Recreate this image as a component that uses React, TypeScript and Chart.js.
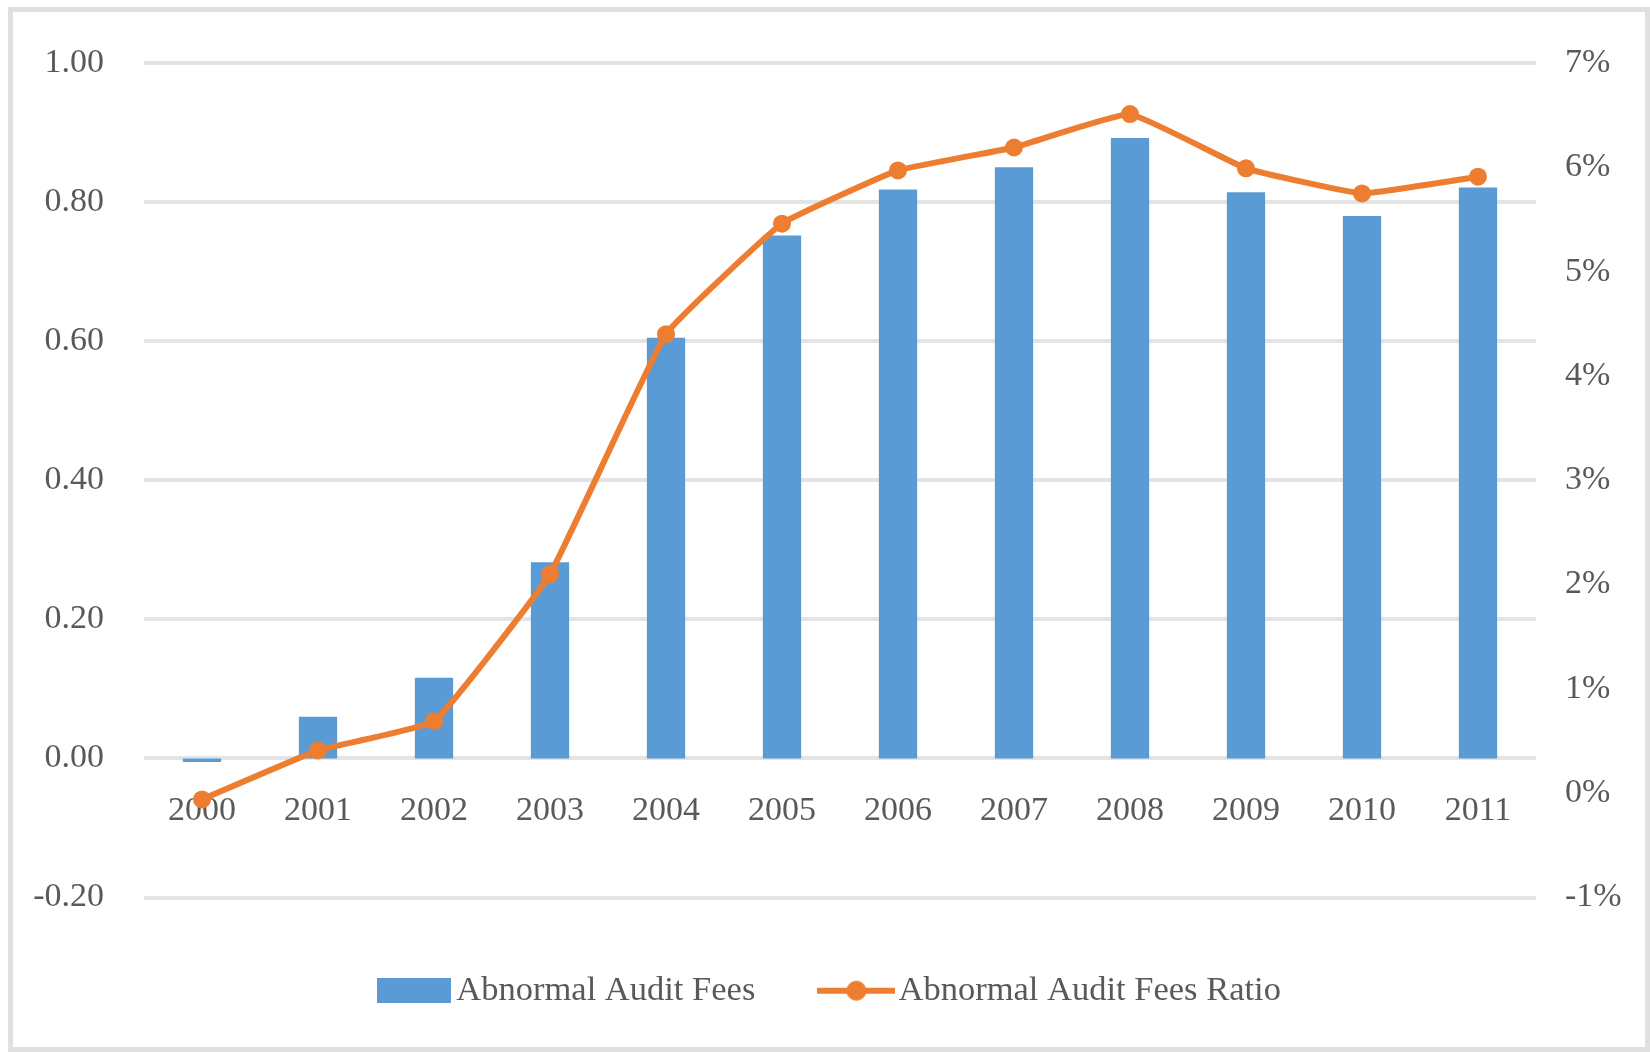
import React, { useEffect, useRef } from 'react';
import { Chart, registerables } from 'chart.js';

Chart.register(...registerables);

const years = ['2000', '2001', '2002', '2003', '2004', '2005', '2006', '2007', '2008', '2009', '2010', '2011'];
const abnormalAuditFees = [-0.005, 0.06, 0.116, 0.282, 0.605, 0.752, 0.818, 0.85, 0.892, 0.814, 0.78, 0.821];
const abnormalAuditFeesRatio = [-0.06, 0.41, 0.69, 2.1, 4.4, 5.46, 5.97, 6.19, 6.51, 5.99, 5.75, 5.91];
const seriesNames = ['Abnormal Audit Fees', 'Abnormal Audit Fees Ratio'];

const BLUE = '#5B9BD5';
const ORANGE = '#ED7D31';
const TEXT = '#595959';
const FONT = "'Liberation Serif', 'Times New Roman', serif";

function makeBarSwatch(): HTMLCanvasElement {
  const c = document.createElement('canvas');
  c.width = 74;
  c.height = 25;
  const ctx = c.getContext('2d')!;
  ctx.fillStyle = BLUE;
  ctx.fillRect(0, 0, 74, 25);
  return c;
}

function makeLineSwatch(): HTMLCanvasElement {
  const c = document.createElement('canvas');
  c.width = 78;
  c.height = 26;
  const ctx = c.getContext('2d')!;
  ctx.strokeStyle = ORANGE;
  ctx.lineWidth = 6;
  ctx.beginPath();
  ctx.moveTo(0, 13);
  ctx.lineTo(78, 13);
  ctx.stroke();
  ctx.fillStyle = ORANGE;
  ctx.beginPath();
  ctx.arc(39, 13, 10, 0, Math.PI * 2);
  ctx.fill();
  return c;
}

export default function App() {
  const canvasRef = useRef<HTMLCanvasElement | null>(null);

  useEffect(() => {
    if (!canvasRef.current) return;
    const barSwatch = makeBarSwatch();
    const lineSwatch = makeLineSwatch();
    const chart = new Chart(canvasRef.current, {
      type: 'bar',
      data: {
        labels: years,
        datasets: [
          {
            type: 'bar',
            label: seriesNames[0],
            data: abnormalAuditFees,
            backgroundColor: BLUE,
            borderWidth: 0,
            categoryPercentage: 1,
            barPercentage: 0.33,
            yAxisID: 'y',
            order: 2,
          },
          {
            type: 'line',
            label: seriesNames[1],
            data: abnormalAuditFeesRatio,
            borderColor: ORANGE,
            backgroundColor: ORANGE,
            borderWidth: 6,
            pointRadius: 9,
            pointBackgroundColor: ORANGE,
            pointBorderColor: ORANGE,
            pointBorderWidth: 0,
            tension: 0.1,
            yAxisID: 'y1',
            order: 1,
          } as any,
        ],
      },
      options: {
        responsive: false,
        animation: false,
        layout: { padding: { left: 20, right: 0, top: 63, bottom: 34 } },
        plugins: {
          tooltip: { enabled: false },
          legend: {
            position: 'bottom',
            labels: {
              usePointStyle: true,
              pointStyleWidth: 50,
              padding: 76,
              color: TEXT,
              font: { family: FONT, size: 34.5 },
              generateLabels: () => [
                { text: seriesNames[0], pointStyle: barSwatch as any, fillStyle: BLUE, strokeStyle: BLUE, lineWidth: 0, hidden: false, datasetIndex: 0, fontColor: TEXT },
                { text: seriesNames[1], pointStyle: lineSwatch as any, fillStyle: ORANGE, strokeStyle: ORANGE, lineWidth: 0, hidden: false, datasetIndex: 1, fontColor: TEXT },
              ],
            },
          },
        },
        scales: {
          x: {
            type: 'category',
            position: { y: 0 } as any,
            grid: { display: false, drawTicks: false },
            border: { display: false },
            ticks: {
              padding: 32,
              color: TEXT,
              font: { family: FONT, size: 34 },
              maxRotation: 0,
              autoSkip: false,
            },
          },
          y: {
            type: 'linear',
            position: 'left',
            min: -0.2,
            max: 1.0,
            afterFit: (s: any) => { s.width = 124; },
            grid: { color: '#e4e4e4', lineWidth: 4, drawTicks: false },
            border: { display: false },
            ticks: {
              stepSize: 0.2,
              padding: 40,
              color: TEXT,
              font: { family: FONT, size: 34 },
              callback: (v: any) => {
                const n = Math.abs(Number(v)) < 1e-9 ? 0 : Number(v);
                return n.toFixed(2);
              },
            },
          },
          y1: {
            type: 'linear',
            position: 'right',
            min: -1,
            max: 7,
            afterFit: (s: any) => { s.width = 114; },
            grid: { display: false, drawTicks: false },
            border: { display: false },
            ticks: {
              stepSize: 1,
              padding: 29,
              color: TEXT,
              font: { family: FONT, size: 34 },
              callback: (v: any) => `${Math.round(Number(v))}%`,
            },
          },
        },
      },
    });
    return () => chart.destroy();
  }, []);

  return (
    <div style={{ position: 'absolute', left: 0, top: 0, width: 1650, height: 1052, background: '#ffffff' }}>
      <div
        style={{
          position: 'absolute',
          left: 8,
          top: 7,
          width: 1642,
          height: 1045,
          boxSizing: 'border-box',
          border: '5px solid #e0e0e0',
        }}
      />
      <canvas
        ref={canvasRef}
        width={1650}
        height={1052}
        style={{ position: 'absolute', left: 0, top: 0, width: 1650, height: 1052 }}
      />
    </div>
  );
}
